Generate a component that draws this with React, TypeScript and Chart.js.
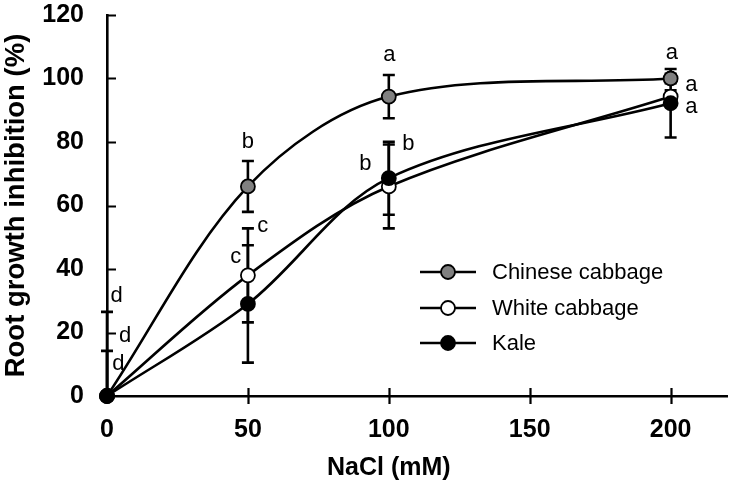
import React, { useEffect, useRef } from "react";
import { Chart, registerables } from "chart.js";

Chart.register(...registerables);

// ---- data ----
const nacl = [0, 50, 100, 200];
const chineseCabbage = [0, 66, 94.3, 100];
const chineseCabbageErr = [26.5, 8, 6.8, 1.5];
const whiteCabbage = [0, 38, 66, 94.3];
const whiteCabbageErr = [14.2, 14.8, 13.2, 2];
const kale = [0, 29, 68.6, 92.2];
const kaleErr = [0, 18.5, 11.5, 10.8];
const seriesNames = ["Chinese cabbage", "White cabbage", "Kale"];
const seriesFill = ["#808080", "#ffffff", "#000000"];
const xTickValues = [0, 50, 100, 150, 200];
const yTickValues = [0, 20, 40, 60, 80, 100, 120];
const xTitle = "NaCl (mM)";
const yTitle = "Root growth inhibition (%)";
// significance letters (in data units)
const letterText = ["d", "d", "d", "b", "c", "c", "a", "b", "b", "a", "a", "a"];
const letterX = [3.4, 6.4, 4.0, 50, 45.7, 55.3, 100.2, 91.7, 106.9, 200.4, 207.4, 207.4];
const letterY = [32.1, 19.5, 10.8, 80.6, 43.8, 53.5, 107.4, 73.7, 80, 108, 98, 91];

const FONT = "'Liberation Sans', Arial, sans-serif";

const extrasPlugin = {
  id: "extras",
  beforeDatasetsDraw(chart: any) {
    const { ctx } = chart;
    const xs = chart.scales.x;
    const ys = chart.scales.y;
    const errs = [chineseCabbageErr, whiteCabbageErr, kaleErr];
    const vals = [chineseCabbage, whiteCabbage, kale];
    ctx.save();
    ctx.strokeStyle = "#000";
    ctx.lineWidth = 2.6;
    for (let s = 0; s < vals.length; s++) {
      for (let i = 0; i < nacl.length; i++) {
        const e = errs[s][i];
        if (!e) continue;
        const px = xs.getPixelForValue(nacl[i]);
        const hi = ys.getPixelForValue(vals[s][i] + e);
        const lo = ys.getPixelForValue(Math.max(0, vals[s][i] - e));
        ctx.beginPath();
        ctx.moveTo(px, hi);
        ctx.lineTo(px, lo);
        ctx.moveTo(px - 6, hi);
        ctx.lineTo(px + 6, hi);
        if (vals[s][i] - e > 0) {
          ctx.moveTo(px - 6, lo);
          ctx.lineTo(px + 6, lo);
        }
        ctx.stroke();
      }
    }
    ctx.restore();
  },
  afterDraw(chart: any) {
    const { ctx, chartArea } = chart;
    const xs = chart.scales.x;
    const ys = chart.scales.y;
    ctx.save();
    ctx.strokeStyle = "#000";
    ctx.lineWidth = 2.2;
    // x ticks crossing axis
    ctx.beginPath();
    for (const v of xTickValues) {
      if (v === 0) continue;
      const px = Math.round(xs.getPixelForValue(v)) + 0.5;
      ctx.moveTo(px, chartArea.bottom - 8);
      ctx.lineTo(px, chartArea.bottom + 8);
    }
    // y ticks inward
    for (const v of yTickValues) {
      if (v === 0) continue;
      const py = Math.round(ys.getPixelForValue(v)) + 0.5;
      ctx.moveTo(chartArea.left, py);
      ctx.lineTo(chartArea.left + 9, py);
    }
    ctx.stroke();

    // letters
    ctx.fillStyle = "#000";
    ctx.font = `22px ${FONT}`;
    ctx.textAlign = "center";
    ctx.textBaseline = "alphabetic";
    for (let i = 0; i < letterText.length; i++) {
      const m = ctx.measureText(letterText[i]);
      const asc = m.actualBoundingBoxAscent;
      const desc = m.actualBoundingBoxDescent;
      const px = xs.getPixelForValue(letterX[i]);
      const py = ys.getPixelForValue(letterY[i]);
      ctx.fillText(letterText[i], px, py + (asc - desc) / 2);
    }

    // x title centered on data range
    ctx.font = `bold 25px ${FONT}`;
    ctx.textBaseline = "middle";
    ctx.fillText(
      xTitle,
      (xs.getPixelForValue(xTickValues[0]) + xs.getPixelForValue(xTickValues[xTickValues.length - 1])) / 2,
      468
    );

    // legend
    const lx = 420;
    const rowY = [272, 308, 343];
    ctx.font = `22px ${FONT}`;
    ctx.textAlign = "left";
    for (let i = 0; i < seriesNames.length; i++) {
      const y = rowY[i];
      ctx.lineWidth = 2.6;
      ctx.beginPath();
      ctx.moveTo(lx, y);
      ctx.lineTo(lx + 56, y);
      ctx.stroke();
      ctx.beginPath();
      ctx.arc(lx + 28, y, 7, 0, Math.PI * 2);
      ctx.fillStyle = seriesFill[i];
      ctx.fill();
      ctx.lineWidth = 1.8;
      ctx.stroke();
      ctx.fillStyle = "#000";
      ctx.fillText(seriesNames[i], lx + 72, y + 1);
    }
    ctx.restore();
  },
};

const zeroPad = (s: any) => {
  s.paddingTop = 0;
  s.paddingBottom = 0;
  s.paddingLeft = 0;
  s.paddingRight = 0;
};

export default function App() {
  const ref = useRef<HTMLCanvasElement | null>(null);
  useEffect(() => {
    if (!ref.current) return;
    const mk = (i: number, vals: number[], order: number) => ({
      label: seriesNames[i],
      data: nacl.map((x, k) => ({ x, y: vals[k] })),
      borderColor: "#000",
      borderWidth: 2.6,
      backgroundColor: seriesFill[i],
      pointBackgroundColor: seriesFill[i],
      pointBorderColor: "#000",
      pointBorderWidth: 1.8,
      pointRadius: 7,
      pointHoverRadius: 7,
      tension: 0.33,
      fill: false,
      clip: false,
      order,
    });
    const chart = new Chart(ref.current, {
      type: "line",
      data: {
        datasets: [mk(0, chineseCabbage, 2), mk(1, whiteCabbage, 1), mk(2, kale, 0)] as any,
      },
      options: {
        animation: false,
        responsive: false,
        layout: { padding: { top: 15, right: 3, left: 0, bottom: 0 }, autoPadding: false } as any,
        plugins: { legend: { display: false }, tooltip: { enabled: false } },
        events: [],
        scales: {
          x: {
            type: "linear",
            min: 0,
            max: 220,
            grid: { display: false, drawTicks: false },
            border: { display: true, color: "#000", width: 2.6 },
            ticks: {
              stepSize: 50,
              includeBounds: false,
              color: "#000",
              padding: 19,
              maxRotation: 0,
              font: { family: FONT, size: 25, weight: "bold" },
            } as any,
            afterFit: (s: any) => {
              s.height = 100;
              zeroPad(s);
            },
          },
          y: {
            type: "linear",
            min: 0,
            max: 120,
            grid: { display: false, drawTicks: false },
            border: { display: true, color: "#000", width: 2.6 },
            ticks: {
              stepSize: 20,
              color: "#000",
              padding: 23,
              font: { family: FONT, size: 25, weight: "bold" },
            },
            title: {
              display: true,
              text: yTitle,
              color: "#000",
              padding: { top: 0, bottom: 0 },
              font: { family: FONT, size: 27.5, weight: "bold" },
            },
            afterFit: (s: any) => {
              s.width = 107;
              zeroPad(s);
            },
          },
        },
      } as any,
      plugins: [extrasPlugin],
    });
    return () => chart.destroy();
  }, []);
  return (
    <div style={{ position: "fixed", left: 0, top: 0, width: 730, height: 496, background: "#fff" }}>
      <canvas ref={ref} width={730} height={496} style={{ display: "block" }} />
    </div>
  );
}
